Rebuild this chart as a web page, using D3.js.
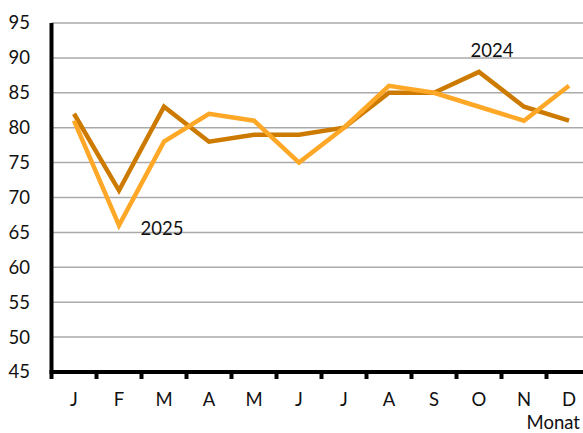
<!DOCTYPE html>
<html>
<head>
<meta charset="utf-8">
<script src="https://cdn.jsdelivr.net/npm/d3@7"></script>
<style>
  body { margin: 0; background: #fff; }
  text { font-family: Lato, "Noto Sans", sans-serif; fill: #111; }
</style>
</head>
<body>
<div id="chart"></div>
<script>
var months = ['J', 'F', 'M', 'A', 'M', 'J', 'J', 'A', 'S', 'O', 'N', 'D'];
var values_2024 = [82, 71, 83, 78, 79, 79, 80, 85, 85, 88, 83, 81];
var values_2025 = [81, 66, 78, 82, 81, 75, 80, 86, 85, 83, 81, 86];
var y_ticks = [45, 50, 55, 60, 65, 70, 75, 80, 85, 90, 95];

var svg_w = 583, svg_h = 433,
    font_size = 18.5;
var margin = {top: 23, left: 51.5, bottom: 372, right: 591.5};

var svg = d3.select('#chart').append('svg')
    .attr('width', svg_w)
    .attr('height', svg_h);

var x = d3.scaleBand()
    .domain(d3.range(months.length))
    .range([margin.left, margin.right]);

var y = d3.scaleLinear()
    .domain([45, 95])
    .range([margin.bottom, margin.top]);

// grid
svg.append('g')
  .selectAll('line')
  .data(y_ticks.filter(function(d) { return d > 45; }))
  .join('line')
    .attr('x1', margin.left)
    .attr('x2', svg_w)
    .attr('y1', function(d) { return y(d); })
    .attr('y2', function(d) { return y(d); })
    .attr('stroke', '#aaaaaa')
    .attr('stroke-width', 1.5);

// y labels
svg.append('g')
  .selectAll('text')
  .data(y_ticks)
  .join('text')
    .attr('x', 30)
    .attr('y', function(d) { return y(d); })
    .attr('dy', '0.35em')
    .attr('text-anchor', 'end')
    .attr('font-size', font_size)
    .text(function(d) { return d; });

// x ticks between months
svg.append('g')
  .selectAll('line')
  .data(d3.range(1, months.length))
  .join('line')
    .attr('x1', function(i) { return x(i); })
    .attr('x2', function(i) { return x(i); })
    .attr('y1', margin.bottom)
    .attr('y2', margin.bottom + 7)
    .attr('stroke', '#000')
    .attr('stroke-width', 4);

// x labels
svg.append('g')
  .selectAll('text')
  .data(months)
  .join('text')
    .attr('x', function(d, i) { return x(i) + x.bandwidth() / 2; })
    .attr('y', 406)
    .attr('text-anchor', 'middle')
    .attr('font-size', font_size)
    .text(function(d) { return d; });

svg.append('text')
  .attr('x', 580)
  .attr('y', 429)
  .attr('text-anchor', 'end')
  .attr('font-size', font_size)
  .text('Monat');

// axes
svg.append('line')
  .attr('x1', margin.left).attr('x2', margin.left)
  .attr('y1', margin.top).attr('y2', margin.bottom + 7)
  .attr('stroke', '#000').attr('stroke-width', 4);

svg.append('line')
  .attr('x1', margin.left - 2).attr('x2', svg_w)
  .attr('y1', margin.bottom).attr('y2', margin.bottom)
  .attr('stroke', '#000').attr('stroke-width', 4);

var line = d3.line()
    .x(function(d, i) { return x(i) + x.bandwidth() / 2; })
    .y(function(d) { return y(d); });

function draw_series(values, color) {
  svg.append('path')
    .datum(values)
    .attr('d', line)
    .attr('fill', 'none')
    .attr('stroke', color)
    .attr('stroke-width', 4.5)
    .attr('stroke-linejoin', 'miter');
}

draw_series(values_2024, '#cc7a00');
draw_series(values_2025, '#ffa726');

svg.append('text')
  .attr('x', 492).attr('y', 57)
  .attr('text-anchor', 'middle')
  .attr('font-size', font_size)
  .text('2024');

svg.append('text')
  .attr('x', 162).attr('y', 235)
  .attr('text-anchor', 'middle')
  .attr('font-size', font_size)
  .text('2025');
</script>
</body>
</html>
